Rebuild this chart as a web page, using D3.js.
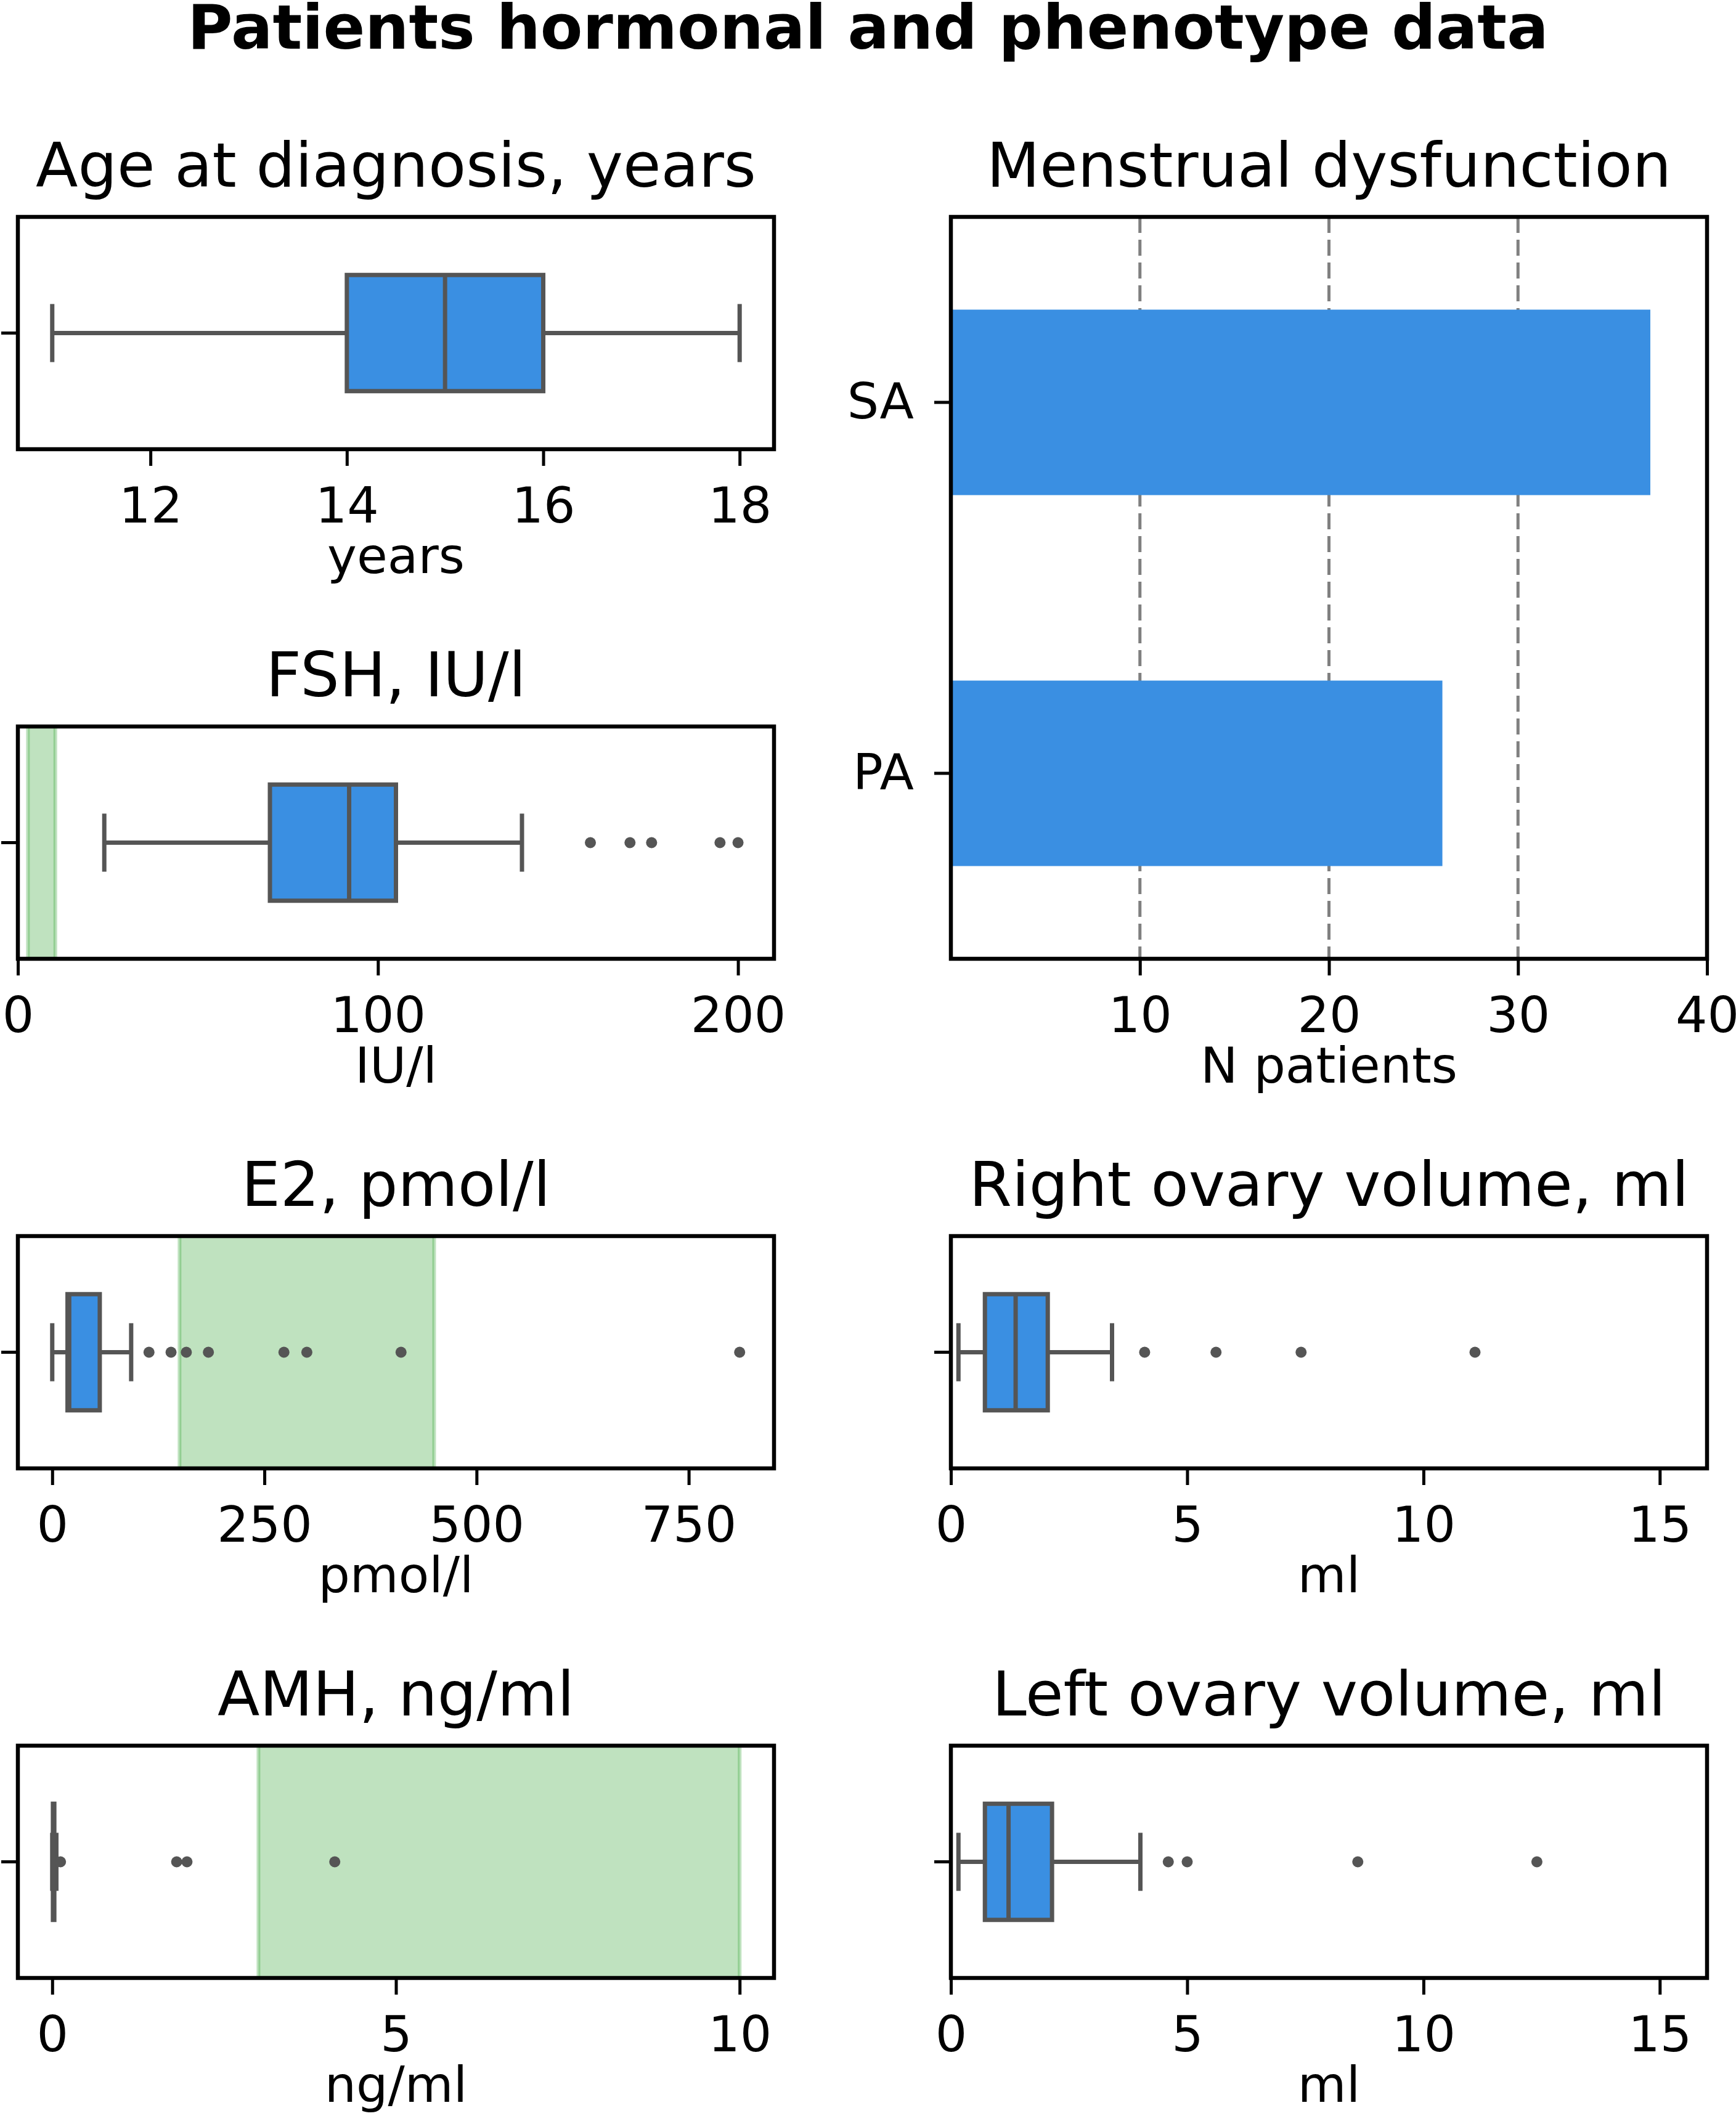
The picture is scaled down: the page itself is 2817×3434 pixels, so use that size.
<!DOCTYPE html>
<html>
<head>
<meta charset="utf-8">
<script src="https://cdn.jsdelivr.net/npm/d3@7"></script>
<style>
body {margin: 0; background: #fff;}
text {font-family: "DejaVu Sans", sans-serif; fill: #000;}
</style>
</head>
<body>
<svg id="chart"></svg>
<script>
// box stats: [whisker low, Q1, median, Q3, whisker high]
var ageStats = [11, 14, 15, 16, 18],
    ageOut = [];
var fshStats = [24, 70, 92, 105, 140],
    fshOut = [159, 170, 176, 195, 200];
var e2Stats = [0, 18, 20, 56, 93],
    e2Out = [114, 140, 158, 184, 273, 300, 411, 810];
var amhStats = [0, 0.01, 0.02, 0.03, 0.06],
    amhOut = [0.12, 1.81, 1.96, 4.11];
var rovStats = [0.16, 0.72, 1.37, 2.05, 3.41],
    rovOut = [4.10, 5.61, 7.41, 11.09];
var lovStats = [0.16, 0.72, 1.22, 2.14, 4.01],
    lovOut = [4.60, 5.00, 8.61, 12.40];

// reference ranges (green bands)
var fshRange = [2.8, 10.4],
    e2Range = [150, 450],
    amhRange = [3, 10];

// menstrual dysfunction counts
var menCats = ["SA", "PA"],
    menCounts = [37, 26];

// tick labels
var ageTicks = [12, 14, 16, 18],
    fshTicks = [0, 100, 200],
    e2Ticks = [0, 250, 500, 750],
    amhTicks = [0, 5, 10],
    ovTicks = [0, 5, 10, 15],
    menTicks = [10, 20, 30, 40];

const W = 2817, H = 3434,
    axW = 1227, axH = 377,
    colX = [29, 1543],
    rowY = [352, 1179, 2006, 2833],
    boxColor = "#3a8fe2",
    lineColor = "#555555",
    spanColor = "#2ca02c",
    boxLW = 7,
    tickFont = 81,
    titleFont = 100;

var svg = d3.select("#chart").attr("width", W).attr("height", H);

svg.append("text")
    .attr("x", W / 2).attr("y", 79)
    .attr("text-anchor", "middle")
    .style("font-size", "100px").style("font-weight", "bold")
    .text("Patients hormonal and phenotype data");

var panels = [
    {title: "Age at diagnosis, years", label: "years", col: 0, row: 0, stats: ageStats, out: ageOut, dom: [10.65, 18.35], ticks: ageTicks},
    {title: "FSH, IU/l", label: "IU/l", col: 0, row: 1, stats: fshStats, out: fshOut, dom: [0, 210], ticks: fshTicks, span: fshRange},
    {title: "E2, pmol/l", label: "pmol/l", col: 0, row: 2, stats: e2Stats, out: e2Out, dom: [-40.5, 850.5], ticks: e2Ticks, span: e2Range},
    {title: "AMH, ng/ml", label: "ng/ml", col: 0, row: 3, stats: amhStats, out: amhOut, dom: [-0.5, 10.5], ticks: amhTicks, span: amhRange},
    {title: "Right ovary volume, ml", label: "ml", col: 1, row: 2, stats: rovStats, out: rovOut, dom: [0, 16], ticks: ovTicks},
    {title: "Left ovary volume, ml", label: "ml", col: 1, row: 3, stats: lovStats, out: lovOut, dom: [0, 16], ticks: ovTicks}
];

// common frame: title, x axis, x label
function frame(g, h, x, ticks, title, label) {
    g.append("text")
        .attr("x", axW / 2).attr("y", -49)
        .attr("text-anchor", "middle")
        .style("font-size", titleFont + "px")
        .text(title);

    var ax = g.append("g")
        .attr("transform", "translate(0," + h + ")")
        .call(d3.axisBottom(x).tickValues(ticks).tickSize(27).tickPadding(34).tickFormat(d3.format("d")));
    ax.select(".domain").remove();
    ax.selectAll("line").attr("stroke", "#000").attr("stroke-width", 5);
    ax.selectAll("text").style("font-size", tickFont + "px").style("font-family", "DejaVu Sans");

    g.append("text")
        .attr("x", axW / 2).attr("y", h + 201)
        .attr("text-anchor", "middle")
        .style("font-size", tickFont + "px")
        .text(label);
}

function spines(g, h) {
    g.append("rect")
        .attr("width", axW).attr("height", h)
        .attr("fill", "none")
        .attr("stroke", "#000").attr("stroke-width", 6.5);
}

panels.forEach(function(p) {
    var g = svg.append("g")
        .attr("transform", "translate(" + colX[p.col] + "," + rowY[p.row] + ")");
    var x = d3.scaleLinear().domain(p.dom).range([0, axW]);
    var y = d3.scaleLinear().domain([-0.5, 0.5]).range([0, axH]);
    var s = p.stats;

    g.append("clipPath").attr("id", "clip" + p.col + p.row)
        .append("rect").attr("width", axW).attr("height", axH);
    var plot = g.append("g").attr("clip-path", "url(#clip" + p.col + p.row + ")");

    if (p.span) {
        plot.append("rect")
            .attr("x", x(p.span[0])).attr("width", x(p.span[1]) - x(p.span[0]))
            .attr("y", y(-0.5)).attr("height", y(0.5) - y(-0.5))
            .attr("fill", spanColor).attr("fill-opacity", 0.3)
            .attr("stroke", spanColor).attr("stroke-opacity", 0.3).attr("stroke-width", 6);
    }

    // whiskers
    plot.selectAll(".whisker")
        .data([[s[0], s[1]], [s[3], s[4]]])
        .enter().append("line")
        .attr("x1", function(d) {return x(d[0]);})
        .attr("x2", function(d) {return x(d[1]);})
        .attr("y1", y(0)).attr("y2", y(0))
        .attr("stroke", lineColor).attr("stroke-width", boxLW);
    // caps
    plot.selectAll(".cap")
        .data([s[0], s[4]])
        .enter().append("line")
        .attr("x1", function(d) {return x(d);})
        .attr("x2", function(d) {return x(d);})
        .attr("y1", y(-0.125)).attr("y2", y(0.125))
        .attr("stroke", lineColor).attr("stroke-width", boxLW);
    // box
    plot.append("rect")
        .attr("x", x(s[1])).attr("width", x(s[3]) - x(s[1]))
        .attr("y", y(-0.25)).attr("height", y(0.25) - y(-0.25))
        .attr("fill", boxColor)
        .attr("stroke", lineColor).attr("stroke-width", boxLW);
    plot.append("line")
        .attr("x1", x(s[2])).attr("x2", x(s[2]))
        .attr("y1", y(-0.25)).attr("y2", y(0.25))
        .attr("stroke", lineColor).attr("stroke-width", boxLW);
    // outliers
    plot.selectAll(".flier")
        .data(p.out)
        .enter().append("circle")
        .attr("cx", function(d) {return x(d);})
        .attr("cy", y(0))
        .attr("r", 9)
        .attr("fill", lineColor);

    // y tick
    g.append("line")
        .attr("x1", -27).attr("x2", 0)
        .attr("y1", y(0)).attr("y2", y(0))
        .attr("stroke", "#000").attr("stroke-width", 5);

    frame(g, axH, x, p.ticks, p.title, p.label);
    spines(g, axH);
});

// Menstrual dysfunction bar chart
var menH = rowY[1] + axH - rowY[0];
var mg = svg.append("g")
    .attr("transform", "translate(" + colX[1] + "," + rowY[0] + ")");
var mx = d3.scaleLinear().domain([0, 40]).range([0, axW]);
var my = d3.scaleBand().domain(menCats).range([0, menH]).paddingInner(0.5).paddingOuter(0.25);

mg.selectAll(".grid")
    .data(menTicks.slice(0, 3))
    .enter().append("line")
    .attr("x1", function(d) {return mx(d);})
    .attr("x2", function(d) {return mx(d);})
    .attr("y1", 0).attr("y2", menH)
    .attr("stroke", "#808080").attr("stroke-width", 5)
    .attr("stroke-dasharray", "26,11");

mg.selectAll(".bar")
    .data(menCounts)
    .enter().append("rect")
    .attr("x", mx(0))
    .attr("y", function(d, i) {return my(menCats[i]);})
    .attr("width", function(d) {return mx(d) - mx(0);})
    .attr("height", my.bandwidth())
    .attr("fill", boxColor);

var yAx = mg.append("g")
    .call(d3.axisLeft(my).tickSize(27).tickPadding(33));
yAx.select(".domain").remove();
yAx.selectAll("line").attr("stroke", "#000").attr("stroke-width", 5);
yAx.selectAll("text").style("font-size", tickFont + "px").style("font-family", "DejaVu Sans");

frame(mg, menH, mx, menTicks, "Menstrual dysfunction", "N patients");
spines(mg, menH);
</script>
</body>
</html>
